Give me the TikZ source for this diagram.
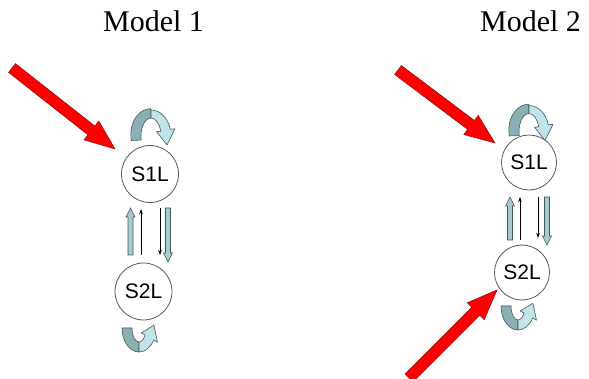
\documentclass[tikz,border=0pt]{standalone}
\usepackage{fontspec}
\setmainfont{Liberation Serif}
\newfontfamily\arialfont{Liberation Sans}
\usetikzlibrary{calc,arrows.meta}
\definecolor{redarrow}{HTML}{FF0000}
\definecolor{rededge}{HTML}{8A1010}
\definecolor{loopdark}{HTML}{8CAFB3}
\definecolor{looplight}{HTML}{C2E4E9}
\definecolor{loopedge}{HTML}{41585B}
\definecolor{fatfill}{HTML}{A6CACF}
\definecolor{circedge}{HTML}{5A5A5A}

\tikzset{
  state/.style={circle, draw=circedge, line width=0.8pt, fill=white, inner sep=0pt,
    font=\arialfont\fontsize{21}{21}\selectfont},
  title/.style={anchor=base, font=\fontsize{30}{30}\selectfont},
  redblock/.style={fill=redarrow, draw=rededge, line width=0.5pt, line join=miter},
  fatblock/.style={fill=fatfill, draw=loopedge, line width=0.6pt},
  thinarrow/.style={draw=black, line width=0.7pt, -{Stealth[length=5pt,width=3.6pt]}},
  loopband/.style={draw=loopedge, line width=0.6pt, line join=round}
}

% block arrow: #1 style, #2 tail coordinate, #3 tip coordinate,
% #4 shaft half width, #5 head half width, #6 head length
\newcommand\blockarrow[6]{%
  \coordinate (ba-hb) at ($(#3)!#6pt!(#2)$);
  \path[#1] ($(#2)!#4pt!90:(#3)$) -- ($(ba-hb)!#4pt!90:(#3)$) -- ($(ba-hb)!#5pt!90:(#3)$)
    -- (#3) -- ($(ba-hb)!#5pt!-90:(#3)$) -- ($(ba-hb)!#4pt!-90:(#3)$)
    -- ($(#2)!#4pt!-90:(#3)$) -- cycle;}

% self loop above a state (inverted U, head pointing down on the right)
\newcommand\toploop[1]{%
  \begin{scope}[shift={(#1)}]
    \path[loopband, fill=loopdark] (-19.70,-4.51)
      arc[start angle=193, end angle=90, x radius=20, y radius=26]
      -- (0,18) arc[start angle=90, end angle=193, x radius=10, y radius=18] -- cycle;
    \path[loopband, fill=looplight] (0,26)
      arc[start angle=90, end angle=15, x radius=20, y radius=26]
      -- (24,7.2) -- (16,-9) -- (5.5,4.3) -- (9.66,4.66)
      arc[start angle=15, end angle=90, x radius=10, y radius=18] -- cycle;
  \end{scope}}

% self loop below a state (U, head pointing up on the right)
\newcommand\bottomloop[1]{%
  \begin{scope}[shift={(#1)}]
    \path[loopband, fill=loopdark] (-17,0)
      arc[start angle=180, end angle=270, x radius=17, y radius=24]
      -- (0,-14) arc[start angle=270, end angle=180, x radius=7, y radius=14] -- cycle;
    \path[loopband, fill=looplight] (0,-24)
      arc[start angle=270, end angle=330, x radius=17, y radius=24]
      -- (18.5,-14.2) -- (14.9,2.8) -- (2.2,-5) -- (6.06,-7)
      arc[start angle=330, end angle=270, x radius=7, y radius=14] -- cycle;
  \end{scope}}

\begin{document}
\begin{tikzpicture}[x=1pt, y=1pt]
  \fill[white] (0,-379) rectangle (589,0);
  \useasboundingbox (0,-379) rectangle (589,0);

  % titles
  \node[title] (t1) at (153.5,-32) {Model 1};
  \node[title] (t2) at (530.5,-32) {Model 2};

  % ---------- Model 1 ----------
  \toploop{151,-136}
  \bottomloop{139,-328}
  \node[state, minimum size=57pt] (a1) at (150,-174) {S1L};
  \node[state, minimum size=57pt] (a2) at (143.5,-291.5) {S2L};

  \coordinate (a-fu-s) at (130.5,-255); \coordinate (a-fu-e) at (130.5,-208);
  \coordinate (a-tu-s) at (141,-255);   \coordinate (a-tu-e) at (141,-209);
  \coordinate (a-td-s) at (160,-208);   \coordinate (a-td-e) at (160,-255);
  \coordinate (a-fd-s) at (168,-208);   \coordinate (a-fd-e) at (168,-262);
  \blockarrow{fatblock}{a-fu-s}{a-fu-e}{2.5}{4.5}{9}
  \blockarrow{fatblock}{a-fd-s}{a-fd-e}{2.5}{4.5}{9}
  \draw[thinarrow] (a-tu-s) -- (a-tu-e);
  \draw[thinarrow] (a-td-s) -- (a-td-e);

  \coordinate (a-in-s) at (12,-68); \coordinate (a-in-e) at (115,-149);
  \blockarrow{redblock}{a-in-s}{a-in-e}{5.6}{12}{30}

  % ---------- Model 2 ----------
  \toploop{529,-131.5}
  \bottomloop{518,-306}
  \node[state, minimum size=55pt] (b1) at (529,-162.5) {S1L};
  \node[state, minimum size=55pt] (b2) at (522,-272.5) {S2L};

  \coordinate (b-fu-s) at (510,-240); \coordinate (b-fu-e) at (510,-197);
  \coordinate (b-tu-s) at (520,-240); \coordinate (b-tu-e) at (520,-197);
  \coordinate (b-td-s) at (538,-197); \coordinate (b-td-e) at (538,-238);
  \coordinate (b-fd-s) at (547,-197); \coordinate (b-fd-e) at (547,-245);
  \blockarrow{fatblock}{b-fu-s}{b-fu-e}{2.5}{4.5}{9}
  \blockarrow{fatblock}{b-fd-s}{b-fd-e}{2.5}{4.5}{9}
  \draw[thinarrow] (b-tu-s) -- (b-tu-e);
  \draw[thinarrow] (b-td-s) -- (b-td-e);

  \coordinate (b-in1-s) at (398,-70);  \coordinate (b-in1-e) at (495,-143);
  \blockarrow{redblock}{b-in1-s}{b-in1-e}{5.6}{12}{30}
  \coordinate (b-in2-s) at (409,-378); \coordinate (b-in2-e) at (497,-290);
  \blockarrow{redblock}{b-in2-s}{b-in2-e}{5.6}{12}{30}
\end{tikzpicture}
\end{document}
